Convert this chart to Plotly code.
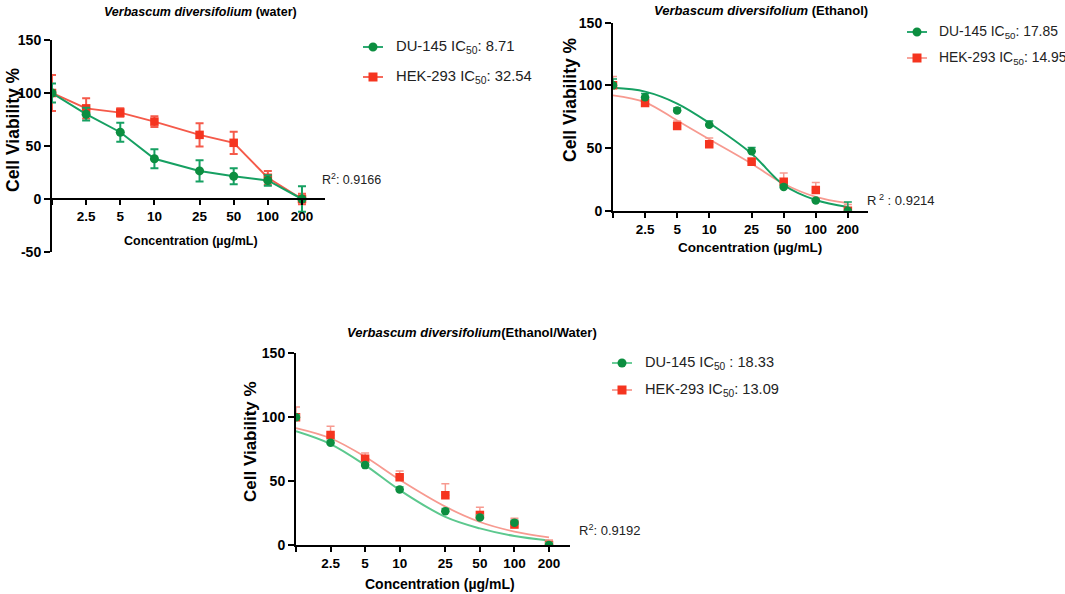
import plotly.graph_objects as go

W, H = 1065, 594

# concentrations (ug/mL); the first one is the control column, drawn without a label
conc = [1.25, 2.5, 5, 10, 25, 50, 100, 200]
x_tick_text = ['', '2.5', '5', '10', '25', '50', '100', '200']
y_tick_vals = [-50, 0, 50, 100, 150]
y_tick_text = ['-50', '0', '50', '100', '150']

# water extract
water_du145 = [100, 80, 63, 38, 26.5, 21.5, 17.5, 0]
water_du145_err = [9, 6, 9, 9, 10, 7.5, 5, 12]
water_hek293 = [100, 85.5, 81.5, 73, 60.5, 53, 20, 0]
water_hek293_err = [17, 9.5, 4, 5, 11, 10.5, 6.5, 5]

# ethanol extract
eth_du145 = [100, 90.5, 80, 68.5, 47.5, 19, 8.2, 0]
eth_du145_err = [5, 3, 2, 3, 3, 2, 1, 7]
eth_hek293 = [100, 86, 67.5, 53, 39, 23, 16.5, 0]
eth_hek293_err = [7, 2, 4, 5, 3, 7, 6, 5]
eth_du145_fit = [98, 95, 85.5, 70, 45.5, 20.5, 8.5, 3]
eth_hek293_fit = [92, 86.5, 72, 57, 37.5, 21.5, 11, 6]

# ethanol/water extract
ew_du145 = [100, 80, 62.5, 43.5, 26.5, 21.5, 17.5, 0]
ew_du145_err = [2, 2, 2, 2, 2, 2, 2, 2]
ew_hek293 = [100, 86, 67.5, 53, 39, 23.5, 16, 0]
ew_hek293_err = [8, 7, 4.5, 5, 9, 6, 5, 4]
ew_du145_fit = [89, 79, 62.5, 43, 22, 13, 7, 3.5]
ew_hek293_fit = [91.5, 83.5, 69, 51, 30, 18, 10.5, 6]

legend_water = ['DU-145 IC<sub>50</sub>: 8.71', 'HEK-293 IC<sub>50</sub>: 32.54']
legend_eth = ['DU-145 IC<sub>50</sub>: 17.85', 'HEK-293 IC<sub>50</sub>: 14.95']
legend_ew = ['DU-145 IC<sub>50</sub> : 18.33', 'HEK-293 IC<sub>50</sub>: 13.09']
r2_texts = ['R<sup>2</sup>: 0.9166', 'R<sup> 2</sup> : 0.9214', 'R<sup>2</sup>: 0.9192']

GREEN = '#0c8e40'
GREEN_LINE = '#16a062'
GREEN_FIT_LIGHT = '#5cc88e'
RED = '#f5341f'
RED_LINE = '#f55a4a'
RED_FIT = '#f79a90'
FONT = 'Liberation Sans, Arial, sans-serif'


# page pixel -> paper fraction
def px_x(p):
    return p / W


def px_y(p):
    return 1 - p / H


fig = go.Figure()

# ---- panel 1: water, points joined by straight lines
fig.add_trace(go.Scatter(
    x=conc, y=water_hek293, mode='lines+markers',
    line=dict(color=RED_LINE, width=2), marker=dict(symbol='square', size=8.5, color=RED),
    error_y=dict(type='data', array=water_hek293_err, color=RED_LINE, thickness=2, width=4),
    xaxis='x', yaxis='y'))
fig.add_trace(go.Scatter(
    x=conc, y=water_du145, mode='lines+markers',
    line=dict(color=GREEN_LINE, width=2), marker=dict(symbol='circle', size=9, color=GREEN),
    error_y=dict(type='data', array=water_du145_err, color=GREEN_LINE, thickness=2, width=4),
    xaxis='x', yaxis='y'))


def fitted_panel(du, du_err, du_fit, hek, hek_err, hek_fit, xa, ya, green_fit):
    fig.add_trace(go.Scatter(x=conc, y=hek_fit, mode='lines', line=dict(color=RED_FIT, width=1.8, shape='spline'),
                             xaxis=xa, yaxis=ya))
    fig.add_trace(go.Scatter(x=conc, y=du_fit, mode='lines', line=dict(color=green_fit, width=2, shape='spline'),
                             xaxis=xa, yaxis=ya))
    fig.add_trace(go.Scatter(
        x=conc, y=hek, mode='markers', marker=dict(symbol='square', size=8.5, color=RED),
        error_y=dict(type='data', symmetric=False, array=hek_err, arrayminus=[0] * len(hek_err),
                     color=RED_FIT, thickness=1.5, width=4),
        xaxis=xa, yaxis=ya))
    fig.add_trace(go.Scatter(
        x=conc, y=du, mode='markers', marker=dict(symbol='circle', size=8.5, color=GREEN),
        error_y=dict(type='data', symmetric=False, array=du_err, arrayminus=[0] * len(du_err),
                     color=green_fit, thickness=1.5, width=4),
        xaxis=xa, yaxis=ya))


fitted_panel(eth_du145, eth_du145_err, eth_du145_fit, eth_hek293, eth_hek293_err, eth_hek293_fit,
             'x2', 'y2', GREEN_LINE)
fitted_panel(ew_du145, ew_du145_err, ew_du145_fit, ew_hek293, ew_hek293_err, ew_hek293_fit,
             'x3', 'y3', GREEN_FIT_LIGHT)

tickfont = dict(family=FONT, size=14, color='black', weight='bold')


def xaxis_style(left, right, xmax, anchor, position=None):
    d = dict(type='log', domain=[px_x(left), px_x(right)], range=[0.0969, xmax],
             tickvals=conc, ticktext=x_tick_text, showline=True, linecolor='black', linewidth=2,
             ticks='outside', ticklen=5, tickwidth=2, tickcolor='black',
             tickfont=dict(tickfont, size=13.5),
             showgrid=False, zeroline=False, anchor=anchor, automargin=False)
    if position is not None:
        d['position'] = position
    return d


def yaxis_style(top, bottom, ymin, anchor):
    return dict(domain=[px_y(bottom), px_y(top)], range=[ymin, 150],
                tickvals=[v for v in y_tick_vals if v >= ymin],
                ticktext=[t for v, t in zip(y_tick_vals, y_tick_text) if v >= ymin],
                showline=True, linecolor='black', linewidth=2, ticks='outside', ticklen=6,
                tickwidth=2, tickcolor='black', tickfont=tickfont, showgrid=False,
                zeroline=False, anchor=anchor, automargin=False)


fig.update_layout(
    width=W, height=H, margin=dict(l=0, r=0, t=0, b=0, autoexpand=False),
    paper_bgcolor='white', plot_bgcolor='white', showlegend=False,
    xaxis=xaxis_style(52, 325, 2.504, 'free', px_y(199)),
    yaxis=yaxis_style(40, 252, -50, 'x'),
    xaxis2=xaxis_style(613, 868, 2.49, 'y2'),
    yaxis2=yaxis_style(22.7, 210.7, 0, 'x2'),
    xaxis3=xaxis_style(296, 570, 2.484, 'y3'),
    yaxis3=yaxis_style(353.3, 545, 0, 'x3'),
)


def note(text, x, y, size, xanchor='center', bold=False, angle=0, color='black'):
    fig.add_annotation(text=text, x=px_x(x), y=px_y(y), xref='paper', yref='paper',
                       xanchor=xanchor, yanchor='middle', showarrow=False, textangle=angle,
                       font=dict(family=FONT, size=size, color=color, weight='bold' if bold else 'normal'))


# panel titles
note('<i>Verbascum diversifolium</i> (water)', 200, 12, 12.5, bold=True)
note('<i>Verbascum diversifolium</i> (Ethanol)', 761, 10, 13, bold=True)
note('<i>Verbascum diversifolium</i>(Ethanol/Water)', 472, 332, 13, bold=True)

# axis titles
for cx, cy, s in [(191, 241, 12.5), (750, 247, 13.5), (440, 584, 14)]:
    note('Concentration (µg/mL)', cx, cy, s, bold=True)
for cx, cy, s in [(13, 130, 17.5), (570, 100, 17.5), (250, 442, 17)]:
    note('Cell Viability %', cx, cy, s, bold=True, angle=-90)

# R squared labels
for text, lx, cy, s in zip(r2_texts, [320, 865, 577], [179, 200, 530], [12.5, 13, 13]):
    note(text, lx, cy, s, xanchor='left', color='#222')


# hand-placed legends: short line with marker, then the label
def legend_rows(names, cx, rows, text_x, size, green_line, red_line):
    for name, cy, line_col, mark_col, sym in zip(names, rows, [green_line, red_line], [GREEN, RED],
                                                 ['circle', 'rect']):
        fig.add_shape(type='line', xref='paper', yref='paper', x0=px_x(cx - 10), x1=px_x(cx + 10),
                      y0=px_y(cy), y1=px_y(cy), line=dict(color=line_col, width=1.8))
        r = 4.5
        fig.add_shape(type=sym, xref='paper', yref='paper', x0=px_x(cx - r), x1=px_x(cx + r),
                      y0=px_y(cy + r), y1=px_y(cy - r), fillcolor=mark_col, line=dict(width=0))
        note(name, text_x, cy, size, xanchor='left', color='#222')


legend_rows(legend_water, 373, [47, 77], 394, 14.8, GREEN_LINE, RED_LINE)
legend_rows(legend_eth, 917, [32, 58], 937, 13.9, GREEN_LINE, RED_FIT)
legend_rows(legend_ew, 622, [363, 390], 643, 14.6, GREEN_FIT_LIGHT, RED_FIT)

# drop the default 8px body margin so the figure sits in the window corner
fig.write_html("out.html", config={'displayModeBar': False},
               post_script="document.body.style.margin='0';")
